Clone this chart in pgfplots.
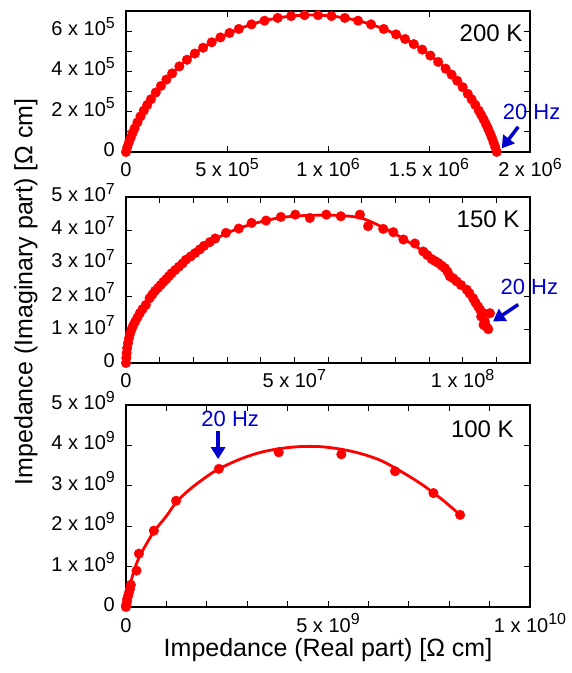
\documentclass[border=0pt]{standalone}
\usepackage{fontspec}
\setmainfont{Liberation Sans}
\usepackage{pgfplots}
\pgfplotsset{compat=1.18}
\usetikzlibrary{arrows.meta}
\definecolor{myblue}{RGB}{0,0,205}
\newcommand{\tx}[2]{#1 x 10\raisebox{7.5pt}{\fontsize{16}{16}\selectfont #2}}
\pgfplotsset{
  panel/.style={
    scale only axis, width=404pt, anchor=south west, clip=false,
    scaled ticks=false, tick align=inside,
    major tick length=6pt,
    tick style={line width=0.9pt, black},
    axis line style={line width=1.7pt},
    tick label style={font=\fontsize{20}{24}\selectfont, inner sep=0pt},
    xticklabel style={anchor=base, yshift=-25pt},
    yticklabel style={anchor=east, text height=14pt, text depth=0pt, xshift=-11pt, yshift=2.5pt},
  },
  datapts/.style={color=red, line width=2.8pt, mark=*, mark size=4.8pt, mark options={line width=0.4pt, fill=red}},
}
\tikzset{
  arr/.style={myblue, line width=3.5pt, -{Triangle[width=14pt,length=12pt]}},
  lbl/.style={font=\fontsize{24}{28}\selectfont, anchor=base east},
  hz/.style={myblue, font=\fontsize{22}{26}\selectfont}
}
\begin{document}
\begin{tikzpicture}
\path[use as bounding box] (0pt,0pt) rectangle (572pt,673pt);
% ---------------- 200 K
\begin{axis}[panel, at={(126pt,521pt)}, height=141pt,
  xmin=0, xmax=2e6, ymin=0, ymax=7e5,
  xtick={0,500000,1000000,1500000,2000000},
  xticklabels={0,\tx{5}{5},\tx{1}{6},\tx{1.5}{6},\tx{2}{6}},
  ytick={0,100000,200000,300000,400000,500000,600000,700000},
  yticklabels={0,,\tx{2}{5},,\tx{4}{5},,\tx{6}{5},}]
\addplot[datapts, smooth] coordinates {
(0,0) (0.0065e6,0.0242e6) (0.0146e6,0.0478e6) (0.0232e6,0.0711e6) (0.0325e6,0.0942e6)
(0.0425e6,0.117e6) (0.0565e6,0.147e6) (0.0717e6,0.1766e6) (0.0880e6,0.2055e6)
(0.1051e6,0.2339e6) (0.1234e6,0.2617e6) (0.1474e6,0.2955e6) (0.1730e6,0.3282e6)
(0.2000e6,0.3598e6) (0.2284e6,0.3903e6) (0.2642e6,0.4251e6) (0.3017e6,0.4579e6)
(0.3409e6,0.4889e6) (0.3817e6,0.5177e6) (0.4241e6,0.5445e6) (0.4676e6,0.5689e6)
(0.5126e6,0.5911e6) (0.5585e6,0.6109e6) (0.6213e6,0.6336e6) (0.6855e6,0.6518e6)
(0.7509e6,0.6656e6) (0.8171e6,0.6748e6) (0.8838e6,0.6794e6) (0.9506e6,0.6794e6)
(1.0173e6,0.6748e6) (1.0835e6,0.6656e6) (1.1488e6,0.6518e6) (1.2130e6,0.6336e6)
(1.2759e6,0.6109e6) (1.3369e6,0.584e6) (1.3814e6,0.561e6) (1.4246e6,0.5358e6)
(1.4664e6,0.5084e6) (1.5067e6,0.4788e6) (1.5454e6,0.4472e6) (1.5824e6,0.4136e6)
(1.6118e6,0.3843e6) (1.6398e6,0.3536e6) (1.6666e6,0.3218e6) (1.6918e6,0.2888e6)
(1.7110e6,0.2617e6) (1.7292e6,0.2339e6) (1.7464e6,0.2055e6) (1.7587e6,0.1839e6)
(1.7704e6,0.1618e6) (1.7815e6,0.1395e6) (1.7919e6,0.117e6) (1.8019e6,0.0942e6)
(1.8112e6,0.0711e6) (1.8197e6,0.0478e6) (1.8279e6,0.0242e6) (1.8353e6,0.0005e6)};
\node[lbl, xshift=-4pt, yshift=-30pt] at (rel axis cs:1,1) {200 K};
\draw[arr] (axis cs:1.942e6,1.25e5) -- (axis cs:1.86e6,0.18e5);
\node[hz] at (axis cs:2.008e6,2.0e5) {20 Hz};
\end{axis}
% ---------------- 150 K
\begin{axis}[panel, at={(126pt,310pt)}, height=166pt,
  xmin=0, xmax=1.2e8, ymin=0, ymax=5e7,
  xtick={0,10000000,20000000,30000000,40000000,50000000,60000000,70000000,80000000,90000000,100000000,110000000,120000000},
  xticklabels={0,,,,,\tx{5}{7},,,,,\tx{1}{8},,},
  ytick={0,10000000,20000000,30000000,40000000,50000000},
  yticklabels={0,\tx{1}{7},\tx{2}{7},\tx{3}{7},\tx{4}{7},\tx{5}{7}}]
\addplot[red, line width=2.8pt, smooth] coordinates {
(0,0) (0.05e7,0.55e7) (0.16e7,1.0e7) (0.41e7,1.5e7) (0.7e7,1.93e7) (1.03e7,2.34e7)
(1.35e7,2.68e7) (1.78e7,3.1e7) (2.32e7,3.52e7) (2.97e7,3.9e7) (3.73e7,4.18e7)
(4.6e7,4.38e7) (5.5e7,4.45e7) (6.4e7,4.44e7) (7.0e7,4.36e7) (7.6e7,4.1e7)
(8.24e7,3.74e7) (8.83e7,3.36e7) (9.47e7,2.85e7) (10.12e7,2.2e7) (10.61e7,1.5e7) (10.76e7,1.02e7)};
\addplot[datapts, only marks] coordinates {
(0,0) (0.01e7,0.15e7) (0.02e7,0.3e7) (0.035e7,0.45e7) (0.06e7,0.6e7) (0.09e7,0.75e7)
(0.12e7,0.88e7) (0.16e7,1.0e7) (0.21e7,1.12e7) (0.27e7,1.24e7) (0.34e7,1.37e7)
(0.41e7,1.5e7) (0.49e7,1.62e7) (0.59e7,1.75e7) (0.70e7,1.95e7) (0.78e7,2.06e7)
(0.86e7,2.17e7) (0.95e7,2.26e7) (1.03e7,2.35e7) (1.11e7,2.44e7) (1.19e7,2.52e7)
(1.27e7,2.61e7) (1.35e7,2.7e7) (1.46e7,2.8e7) (1.57e7,2.9e7) (1.68e7,3.0e7)
(1.78e7,3.11e7) (1.92e7,3.21e7) (2.05e7,3.31e7) (2.19e7,3.42e7) (2.32e7,3.53e7)
(2.49e7,3.64e7) (2.65e7,3.75e7) (2.97e7,3.92e7) (3.35e7,4.05e7) (3.73e7,4.22e7)
(4.16e7,4.29e7) (4.6e7,4.40e7) (5.03e7,4.47e7) (5.46e7,4.37e7) (5.95e7,4.47e7)
(6.38e7,4.42e7) (6.95e7,4.47e7) (7.19e7,4.12e7) (7.64e7,4.04e7) (7.94e7,3.94e7)
(8.24e7,3.72e7) (8.58e7,3.6e7) (8.83e7,3.36e7) (8.95e7,3.25e7) (9.08e7,3.13e7)
(9.18e7,3.07e7) (9.28e7,3.01e7) (9.38e7,2.93e7) (9.47e7,2.86e7) (9.55e7,2.75e7)
(9.62e7,2.61e7) (9.72e7,2.55e7) (9.82e7,2.46e7) (9.95e7,2.35e7) (10.12e7,2.21e7)
(10.2e7,2.1e7) (10.31e7,1.95e7) (10.38e7,1.82e7) (10.46e7,1.7e7) (10.52e7,1.6e7)
(10.61e7,1.50e7) (10.81e7,1.50e7) (10.55e7,1.4e7) (10.66e7,1.25e7) (10.62e7,1.15e7)
(10.7e7,1.1e7) (10.76e7,1.02e7)};
\node[lbl, xshift=-7pt, yshift=-30pt] at (rel axis cs:1,1) {150 K};
\draw[arr] (axis cs:11.65e7,1.76e7) -- (axis cs:10.9e7,1.25e7);
\node[hz] at (axis cs:11.98e7,2.29e7) {20 Hz};
\end{axis}
% ---------------- 100 K
\begin{axis}[panel, at={(126pt,66pt)}, height=202pt,
  xmin=0, xmax=1e10, ymin=0, ymax=5e9,
  xtick={0,1e9,2e9,3e9,4e9,5e9,6e9,7e9,8e9,9e9,1e10},
  xticklabels={0,,,,,\tx{5}{9},,,,,\tx{1}{10}},
  ytick={0,1e9,2e9,3e9,4e9,5e9},
  yticklabels={0,\tx{1}{9},\tx{2}{9},\tx{3}{9},\tx{4}{9},\tx{5}{9}}]
\addplot[red, line width=2.8pt, smooth] coordinates {
(0,0) (0.05e9,0.35e9) (0.12e9,0.62e9) (0.2e9,0.9e9) (0.32e9,1.22e9) (0.5e9,1.55e9)
(0.7e9,1.88e9) (1.0e9,2.25e9) (1.25e9,2.6e9) (1.6e9,2.93e9) (2.0e9,3.23e9)
(2.3e9,3.42e9) (2.8e9,3.65e9) (3.3e9,3.82e9) (3.8e9,3.92e9) (4.3e9,3.97e9)
(4.8e9,3.97e9) (5.3e9,3.91e9) (5.8e9,3.8e9) (6.3e9,3.63e9) (6.8e9,3.36e9)
(7.3e9,3.05e9) (7.8e9,2.68e9) (8.27e9,2.28e9)};
\addplot[datapts, only marks] coordinates {
(0,0) (0.005e9,0.03e9) (0.01e9,0.06e9) (0.02e9,0.12e9) (0.03e9,0.2e9) (0.05e9,0.27e9)
(0.07e9,0.35e9) (0.1e9,0.45e9) (0.12e9,0.55e9) (0.26e9,0.9e9) (0.32e9,1.32e9)
(0.69e9,1.89e9) (1.24e9,2.63e9) (2.3e9,3.42e9) (3.78e9,3.83e9) (5.33e9,3.78e9)
(6.66e9,3.36e9) (7.61e9,2.82e9) (8.27e9,2.28e9)};
\node[lbl, xshift=-12.7pt, yshift=-32.3pt] at (rel axis cs:1,1) {100 K};
\draw[arr] (axis cs:2.28e9,4.35e9) -- (axis cs:2.28e9,3.66e9);
\node[hz] at (axis cs:2.58e9,4.66e9) {20 Hz};
\end{axis}
\node[rotate=90, font=\fontsize{25}{30}\selectfont] at (26pt,381pt) {Impedance (Imaginary part) [Ω cm]};
\node[font=\fontsize{25}{30}\selectfont] at (328pt,23pt) {Impedance (Real part) [Ω cm]};
\end{tikzpicture}
\end{document}
